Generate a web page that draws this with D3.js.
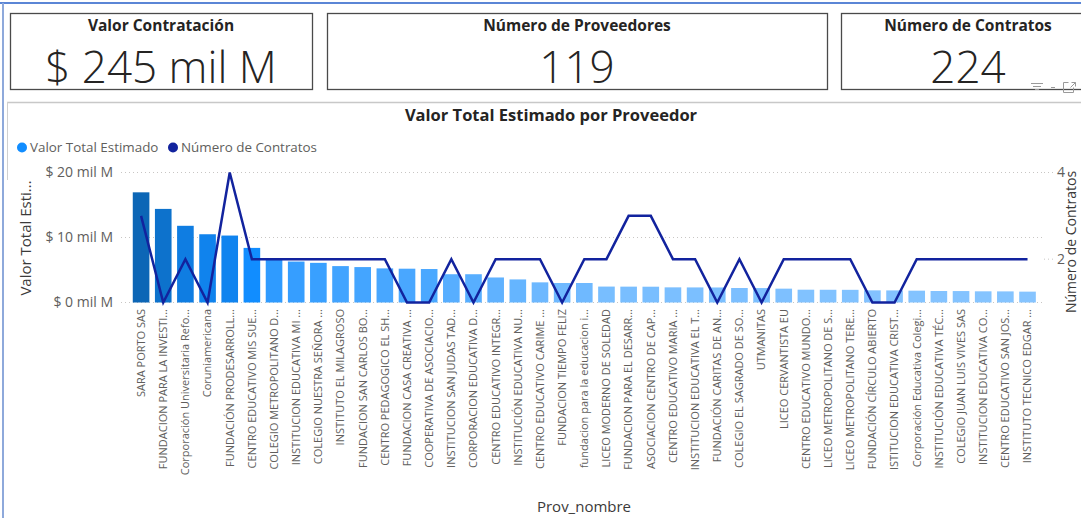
<!DOCTYPE html>
<html>
<head>
<meta charset="utf-8">
<script src="https://cdn.jsdelivr.net/npm/d3@7"></script>
<style>
  html, body { margin: 0; padding: 0; background: #fff; overflow: hidden; }
  svg { display: block; font-family: "Segoe UI", "Open Sans", sans-serif; }
</style>
</head>
<body>
<svg id="chart" width="1081" height="518"></svg>
<script>
// KPI cards
const kpiTitles = ['Valor Contratación', 'Número de Proveedores', 'Número de Contratos'];
const kpiValues = ['$ 245 mil M', '119', '224'];

// chart data (values in mil M = miles de millones)
const seriesNames = ['Valor Total Estimado', 'Número de Contratos'];
const providers = [
  'SARA PORTO SAS', 'FUNDACION PARA LA INVESTI...', 'Corporación Universitaria Refo...',
  'Coruniamericana', 'FUNDACIÓN PRODESARROLL...', 'CENTRO EDUCATIVO MIS SUE...',
  'COLEGIO METROPOLITANO D...', 'INSTITUCION EDUCATIVA MI ...', 'COLEGIO NUESTRA SEÑORA ...',
  'INSTITUTO EL MILAGROSO', 'FUNDACION SAN CARLOS BO...', 'CENTRO PEDAGOGICO EL SH...',
  'FUNDACION CASA CREATIVA ...', 'COOPERATIVA DE ASOCIACIO...', 'INSTITUCION SAN JUDAS TAD...',
  'CORPORACION EDUCATIVA D...', 'CENTRO EDUCATIVO INTEGR...', 'INSTITUCIÓN EDUCATIVA NU...',
  'CENTRO EDUCATIVO CARIME ...', 'FUNDACION TIEMPO FELIZ', 'fundacion para la educacion i...',
  'LICEO MODERNO DE SOLEDAD', 'FUNDACION PARA EL DESARR...', 'ASOCIACION CENTRO DE CAP...',
  'CENTRO EDUCATIVO MARIA ...', 'INSTITUCION EDUCATIVA EL T...', 'FUNDACIÓN CARITAS DE AN...',
  'COLEGIO EL SAGRADO DE SO...', 'UTMANITAS', 'LICEO CERVANTISTA EU',
  'CENTRO EDUCATIVO MUNDO...', 'LICEO METROPOLITANO DE S...', 'LICEO METROPOLITANO TERE...',
  'FUNDACIÓN CÍRCULO ABIERTO', 'ISTITUCION EDUCATIVA CRIST...', 'Corporación Educativa Colegi...',
  'INSTITUCIÓN EDUCATIVA TÉC...', 'COLEGIO JUAN LUIS VIVES SAS', 'INSTITUCION EDUCATIVA CO...',
  'CENTRO EDUCATIVO SAN JOS...', 'INSTITUTO TECNICO EDGAR ...'
];
const valorTotal = [
  16.95, 14.4, 11.8, 10.5, 10.3, 8.4, 6.7, 6.3, 6.1, 5.6,
  5.45, 5.25, 5.2, 5.15, 4.35, 4.35, 3.85, 3.55, 3.1, 3.0,
  3.0, 2.45, 2.44, 2.43, 2.33, 2.32, 2.31, 2.23, 2.22, 2.13,
  1.97, 1.96, 1.95, 1.87, 1.86, 1.82, 1.77, 1.76, 1.72, 1.71, 1.67
];
const numContratos = [
  3, 1, 2, 1, 4, 2, 2, 2, 2, 2,
  2, 2, 1, 1, 2, 1, 2, 2, 2, 1,
  2, 2, 3, 3, 2, 2, 1, 2, 1, 2,
  2, 2, 2, 1, 1, 2, 2, 2, 2, 2, 2
];
const leftTicks = [0, 10, 20];
const rightTicks = [2, 4];

const svg = d3.select('#chart');
const textGrey = '#605E5C';

// outer frame
svg.append('line').attr('x1', 0).attr('x2', 1081).attr('y1', 3).attr('y2', 3)
  .attr('stroke', '#5B86D6').attr('stroke-width', 2);
svg.append('line').attr('x1', 3).attr('x2', 3).attr('y1', 3).attr('y2', 518)
  .attr('stroke', '#8EA9DB').attr('stroke-width', 2);

// KPI cards
const cards = [
  { x: 10, w: 302 },
  { x: 327, w: 500 },
  { x: 841, w: 254 }
];
cards.forEach((c, i) => {
  const g = svg.append('g');
  g.append('rect')
    .attr('x', c.x + 0.5).attr('y', 13.5)
    .attr('width', c.w).attr('height', 76)
    .attr('fill', '#fff').attr('stroke', '#4A4A4A').attr('stroke-width', 1.3);
  g.append('text')
    .attr('x', c.x + c.w / 2).attr('y', 31)
    .attr('text-anchor', 'middle')
    .attr('font-size', 15.5).attr('font-weight', 'bold').attr('fill', '#252423')
    .text(kpiTitles[i]);
  g.append('text')
    .attr('x', c.x + c.w / 2).attr('y', 83)
    .attr('text-anchor', 'middle')
    .attr('font-size', 44).attr('font-weight', 300).attr('fill', '#252423')
    .text(kpiValues[i]);
});

// visual header icons
const icons = svg.append('g').attr('stroke', '#9A9A9A').attr('stroke-width', 1).attr('fill', 'none');
icons.append('line').attr('x1', 1031).attr('x2', 1043).attr('y1', 83.5).attr('y2', 83.5);
icons.append('line').attr('x1', 1033).attr('x2', 1041).attr('y1', 86.5).attr('y2', 86.5);
icons.append('line').attr('x1', 1035).attr('x2', 1039).attr('y1', 89.5).attr('y2', 89.5);
icons.append('line').attr('x1', 1051).attr('x2', 1055).attr('y1', 87.5).attr('y2', 87.5);
icons.append('path').attr('d', 'M1068.5,82.5 h-5 v10 h10 v-5');
icons.append('path').attr('d', 'M1071.5,82.5 h4 v4 M1075.5,82.5 l-5,5');

// chart panel border
svg.append('line').attr('x1', 7).attr('x2', 1081).attr('y1', 102.5).attr('y2', 102.5)
  .attr('stroke', '#C8C8C8').attr('stroke-width', 1.5);
svg.append('line').attr('x1', 7.5).attr('x2', 7.5).attr('y1', 102).attr('y2', 180)
  .attr('stroke', '#D0D0D0').attr('stroke-width', 1);

// chart title
svg.append('text')
  .attr('x', 551).attr('y', 121)
  .attr('text-anchor', 'middle')
  .attr('font-size', 16.5).attr('font-weight', 'bold').attr('fill', '#252423')
  .text('Valor Total Estimado por Proveedor');

// scales
const xScale = d3.scaleBand()
  .domain(providers)
  .range([130, 1038.6])
  .paddingInner(0.25)
  .paddingOuter(0.125);
const yLeft = d3.scaleLinear().domain([0, 20]).range([302.5, 172.5]);
const yRight = d3.scaleLinear().domain([1, 4]).range([302.5, 172.5]);
const colorScale = d3.scaleLinear()
  .domain([d3.min(valorTotal), 8.4, d3.max(valorTotal)])
  .range(['#86C4FF', '#118DFF', '#0C66B6']);
const lineColor = '#12239E';

// legend
const legend = svg.append('g').attr('font-size', 13.4).attr('fill', textGrey);
legend.append('circle').attr('cx', 22).attr('cy', 147.5).attr('r', 5).attr('fill', '#118DFF');
legend.append('text').attr('x', 30).attr('y', 152).text(seriesNames[0]);
legend.append('circle').attr('cx', 173).attr('cy', 147.5).attr('r', 5).attr('fill', lineColor);
legend.append('text').attr('x', 181).attr('y', 152).text(seriesNames[1]);

// gridlines
svg.append('g')
  .selectAll('line')
  .data(leftTicks)
  .join('line')
  .attr('x1', 121).attr('x2', 1044)
  .attr('y1', (d) => yLeft(d)).attr('y2', (d) => yLeft(d))
  .attr('stroke', '#C8C6C4').attr('stroke-width', 1)
  .attr('stroke-dasharray', '1,3');
svg.append('g')
  .selectAll('line')
  .data(rightTicks)
  .join('line')
  .attr('x1', 1044).attr('x2', 1053)
  .attr('y1', (d) => yRight(d)).attr('y2', (d) => yRight(d))
  .attr('stroke', '#C8C6C4').attr('stroke-width', 1)
  .attr('stroke-dasharray', '1,3');

// axes
const leftAxisG = svg.append('g')
  .attr('transform', 'translate(113,0)')
  .call(d3.axisLeft(yLeft).tickValues(leftTicks).tickSize(0).tickPadding(0)
    .tickFormat((d) => `$ ${d} mil M`));
const rightAxisG = svg.append('g')
  .attr('transform', 'translate(1057,0)')
  .call(d3.axisRight(yRight).tickValues(rightTicks).tickSize(0).tickPadding(0)
    .tickFormat(d3.format('d')));
[leftAxisG, rightAxisG].forEach((g) => {
  g.select('.domain').remove();
  g.selectAll('text')
    .attr('font-family', '"Segoe UI", "Open Sans", sans-serif')
    .attr('font-size', 14).attr('fill', textGrey);
});

const xAxisG = svg.append('g')
  .attr('transform', 'translate(0,309)')
  .call(d3.axisBottom(xScale).tickSize(0).tickPadding(0));
xAxisG.select('.domain').remove();
xAxisG.selectAll('text')
  .attr('font-family', '"Segoe UI", "Open Sans", sans-serif')
  .attr('font-size', 11).attr('fill', textGrey)
  .attr('text-anchor', 'end')
  .attr('dy', '0.35em')
  .attr('transform', 'rotate(-90)')
  .attr('x', 0).attr('y', 0);

// axis titles
svg.append('text')
  .attr('transform', 'translate(31,238) rotate(-90)')
  .attr('text-anchor', 'middle')
  .attr('font-size', 15).attr('fill', '#3B3A39')
  .text('Valor Total Esti...');
svg.append('text')
  .attr('transform', 'translate(1076,242) rotate(-90)')
  .attr('text-anchor', 'middle')
  .attr('font-size', 14).attr('fill', '#3B3A39')
  .text(seriesNames[1]);
svg.append('text')
  .attr('x', 584).attr('y', 512)
  .attr('text-anchor', 'middle')
  .attr('font-size', 15).attr('fill', '#3B3A39')
  .text('Prov_nombre');

// bars
const rows = providers.map((p, i) => ({ name: p, valor: valorTotal[i], contratos: numContratos[i] }));
svg.append('g')
  .selectAll('.bar')
  .data(rows)
  .join('rect')
  .attr('class', 'bar')
  .attr('x', (d) => xScale(d.name))
  .attr('width', xScale.bandwidth())
  .attr('y', (d) => yLeft(d.valor))
  .attr('height', (d) => yLeft(0) - yLeft(d.valor))
  .attr('fill', (d) => colorScale(d.valor));

// line for number of contracts
const line = d3.line()
  .x((d) => xScale(d.name) + xScale.bandwidth() / 2)
  .y((d) => yRight(d.contratos));
svg.append('path')
  .datum(rows)
  .attr('d', line)
  .attr('fill', 'none')
  .attr('stroke', lineColor)
  .attr('stroke-width', 2.5)
  .attr('stroke-linejoin', 'miter');
</script>
</body>
</html>
